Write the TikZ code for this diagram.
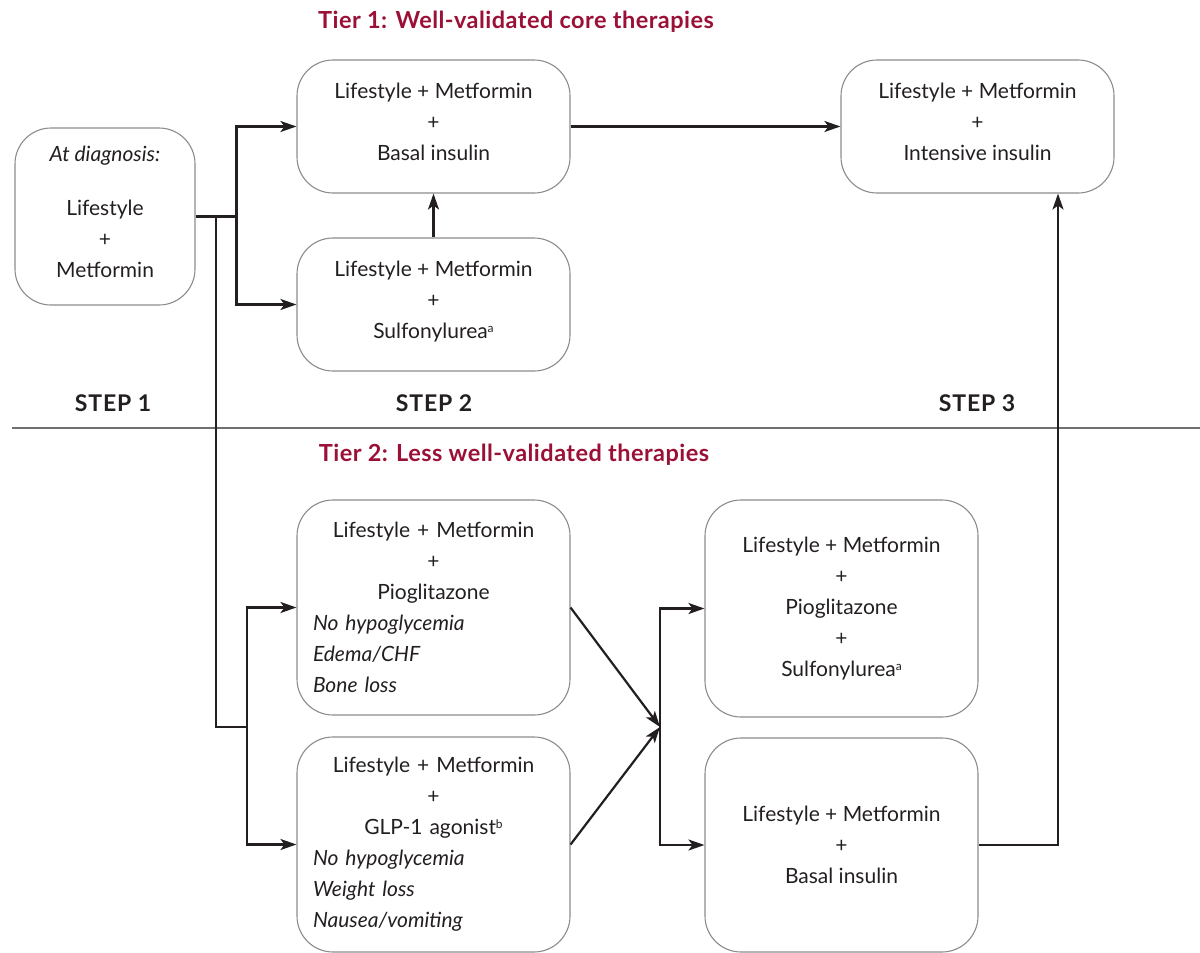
\documentclass[tikz,border=0pt]{standalone}
\usepackage{fontspec}
\setmainfont{Lato}
\usetikzlibrary{arrows.meta}

\definecolor{tierred}{RGB}{155,16,54}
\definecolor{boxgray}{RGB}{140,140,140}
\definecolor{ink}{RGB}{35,31,32}

\newcommand{\notemark}[1]{\raisebox{0.55ex}{\fontsize{12}{12}\selectfont #1}}
\newcommand{\liftstrut}{\rule[-10pt]{0pt}{0pt}}

\begin{document}
\begin{tikzpicture}[x=1pt, y=-1pt,
    every node/.style={font=\fontsize{21}{31}\selectfont, text=ink},
    box/.style={draw=boxgray, line width=1.1pt, rounded corners=36pt,
                align=center, minimum width=273pt, inner sep=0pt},
    sidebox/.style={box, text width=241pt, align=left},
    flow/.style={line width=2.2pt, draw=ink,
                 -{Stealth[length=16pt, width=11pt, inset=4pt]}},
    link/.style={line width=2.2pt, draw=ink},
    steplab/.style={font=\fontsize{23}{26}\selectfont\bfseries\addfontfeature{LetterSpace=4}},
    tierlab/.style={font=\fontsize{23.5}{26}\selectfont\bfseries\addfontfeature{LetterSpace=2}, text=tierred}]

  \useasboundingbox (0,0) rectangle (1200,953);

  % ---- tier headings and steps ----
  \node[tierlab] (tier1) at (516,22)  {Tier 1: Well-validated core therapies};
  \node[tierlab] (tier2) at (514,455) {Tier 2: Less well-validated therapies};
  \foreach \xx/\lab [count=\i] in {113/STEP 1, 434/STEP 2, 977/STEP 3} {
    \node[steplab] (step\i) at (\xx,403) {\lab};
  }
  \draw[boxgray!80!black, line width=1.8pt] (12,428) -- (1200,428);

  % ---- step 1 ----
  \node[box, minimum width=180pt, minimum height=177pt] (diag) at (105,216.5)
    {\textit{At diagnosis:}\\[23pt] Lifestyle\\ +\\ Metformin\liftstrut};

  % ---- tier 1 boxes ----
  \node[box, minimum height=133pt] (basal1) at (433.5,126.5)
    {Lifestyle + Metformin\\ +\\ Basal insulin\liftstrut};
  \node[box, minimum height=133pt] (sulfo1) at (433.5,304.5)
    {Lifestyle + Metformin\\ +\\ Sulfonylurea\notemark{a}\liftstrut};
  \node[box, minimum height=133pt] (intens) at (977.5,126.5)
    {Lifestyle + Metformin\\ +\\ Intensive insulin\liftstrut};

  % ---- tier 2 boxes ----
  \node[sidebox, minimum height=215pt] (pio) at (433.5,607.5)
    {{\centering Lifestyle + Metformin\\ +\\ Pioglitazone\par}
     \textit{No hypoglycemia}\\ \textit{Edema/CHF}\\ \textit{Bone loss}};
  \node[sidebox, minimum height=215pt] (glp) at (433.5,844.5)
    {{\centering Lifestyle + Metformin\\ +\\ GLP-1 agonist\notemark{b}\par}
     \textit{No hypoglycemia}\\ \textit{Weight loss}\\ \textit{Nausea/vomiting}};
  \node[box, minimum height=217pt] (piosu) at (841.5,608.5)
    {Lifestyle + Metformin\\ +\\ Pioglitazone\\ +\\ Sulfonylurea\notemark{a}};
  \node[box, minimum height=214pt] (basal2) at (841.5,845)
    {Lifestyle + Metformin\\ +\\ Basal insulin};

  % ---- connectors, tier 1 ----
  \coordinate (fork1) at ([xshift=41pt]diag.east);
  \draw[link] (diag.east) -- (fork1);
  \draw[flow] (fork1) |- (basal1.west);
  \draw[flow] (fork1) |- (sulfo1.west);
  \draw[flow] (sulfo1.north) -- (basal1.south);
  \draw[flow] (basal1.east) -- (intens.west);

  % ---- connectors, tier 2 ----
  \coordinate (down) at (216,727);
  \coordinate (fork2) at (247,727);
  \draw[link] (down |- diag.east) -- (down) -- (fork2);
  \draw[flow] (fork2) |- (pio.west);
  \draw[flow] (fork2) |- (glp.west);
  \coordinate (merge) at (660,727);
  \draw[flow] (pio.east) -- (merge);
  \draw[flow] (glp.east) -- (merge);
  \draw[flow] (merge) |- (piosu.west);
  \draw[flow] (merge) |- (basal2.west);
  \draw[flow] (basal2.east) -| ([xshift=80.5pt]intens.south);

\end{tikzpicture}
\end{document}
